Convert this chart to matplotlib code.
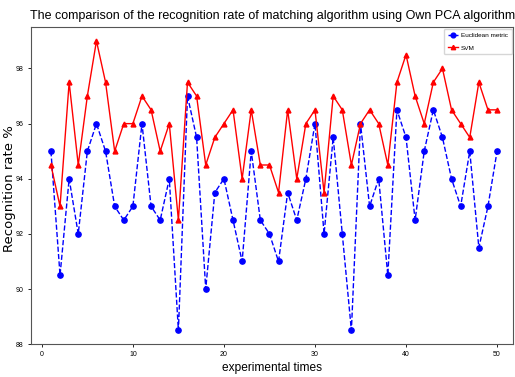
import numpy as np
import matplotlib
matplotlib.use("Agg")
import matplotlib.pyplot as plt

# recognition rate per experiment
times = np.arange(1, 51)
euclidean = [95, 90.5, 94, 92, 95, 96, 95, 93, 92.5, 93,
             96, 93, 92.5, 94, 88.5, 97, 95.5, 90, 93.5, 94,
             92.5, 91, 95, 92.5, 92, 91, 93.5, 92.5, 94, 96,
             92, 95.5, 92, 88.5, 96, 93, 94, 90.5, 96.5, 95.5,
             92.5, 95, 96.5, 95.5, 94, 93, 95, 91.5, 93, 95]
svm = [94.5, 93, 97.5, 94.5, 97, 99, 97.5, 95, 96, 96,
       97, 96.5, 95, 96, 92.5, 97.5, 97, 94.5, 95.5, 96,
       96.5, 94, 96.5, 94.5, 94.5, 93.5, 96.5, 94, 96, 96.5,
       93.5, 97, 96.5, 94.5, 96, 96.5, 96, 94.5, 97.5, 98.5,
       97, 96, 97.5, 98, 96.5, 96, 95.5, 97.5, 96.5, 96.5]

narrow = ["Liberation Sans", "DejaVu Sans"]

fig = plt.figure(figsize=(5.15, 3.77), dpi=100)
ax = fig.add_axes([0.060, 0.087, 0.937, 0.841])

ax.plot(times, euclidean, "bo--", markersize=3.8, linewidth=1, label="Euclidean metric")
ax.plot(times, svm, "r^-", markersize=3.5, linewidth=1, label="SVM")

ax.set_xlim(-1.2, 51.8)
ax.set_ylim(88, 99.5)
ax.set_xticks([0, 10, 20, 30, 40, 50])
ax.set_yticks([88, 90, 92, 94, 96, 98])
ax.tick_params(labelsize=5, length=2, width=0.6, pad=3)
for lbl in ax.get_xticklabels() + ax.get_yticklabels():
    lbl.set_family(narrow)
for sp in ax.spines.values():
    sp.set_color("#555555")

ax.set_title("The comparison of the recognition rate of matching algorithm using Own PCA algorithm",
             fontsize=9, family=narrow, pad=6)
ax.set_xlabel("experimental times", fontsize=8.6, family=narrow, labelpad=3)
ax.set_ylabel("Recognition rate %", fontsize=9.5)
ax.yaxis.set_label_coords(-0.031, 0.49)

leg = ax.legend(loc="upper right", prop=dict(size=4.6, family=narrow),
                borderaxespad=0.25, handlelength=1.6, labelspacing=1.1,
                handletextpad=0.5, markerscale=0.9, borderpad=0.6)

fig.savefig("out.png", dpi=100)
